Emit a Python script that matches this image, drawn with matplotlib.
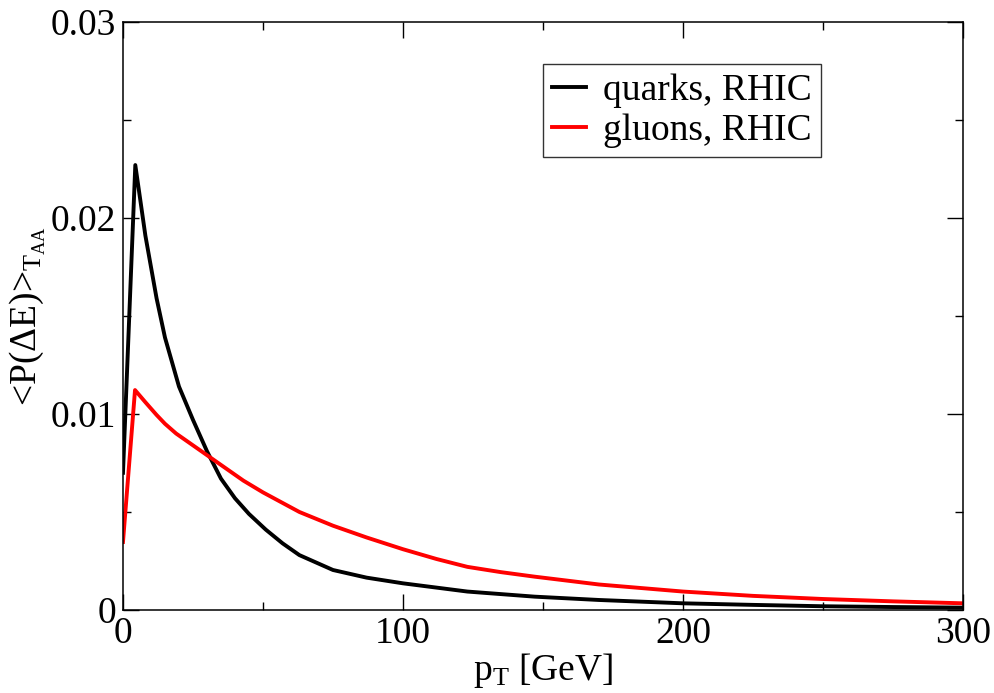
import matplotlib
matplotlib.use("Agg")
import matplotlib.pyplot as plt
from matplotlib.ticker import MultipleLocator, FixedFormatter, FixedLocator

plt.rcParams['font.family'] = ['Liberation Serif', 'DejaVu Serif']
plt.rcParams['mathtext.fontset'] = 'custom'
plt.rcParams['mathtext.rm'] = 'Liberation Serif'
plt.rcParams['mathtext.it'] = 'Liberation Serif:italic'

# values
pt_q = [0, 4.4, 6, 8, 10, 12, 15, 18, 20, 25, 30, 35, 40, 45, 51, 57, 63,
        75, 87, 100, 123, 147, 170, 200, 225, 250, 275, 300]
quarks = [0.0070, 0.0227, 0.0211, 0.0191, 0.0175, 0.0159, 0.0139, 0.0124,
          0.0114, 0.0097, 0.0081, 0.0067, 0.0057, 0.0049, 0.0041, 0.0034,
          0.0028, 0.00204, 0.00165, 0.00136, 0.00094, 0.00068, 0.00051,
          0.00034, 0.00026, 0.00019, 0.00015, 0.00012]

pt_g = [0, 4.3, 8, 12, 15, 19, 25, 30, 35, 43, 50, 63, 75, 87, 100, 112,
        123, 135, 147, 170, 200, 225, 250, 275, 300]
gluons = [0.00347, 0.01122, 0.0106, 0.00995, 0.0095, 0.0090, 0.0084, 0.0079,
          0.0074, 0.0066, 0.0060, 0.0050, 0.0043, 0.0037, 0.0031, 0.0026,
          0.0022, 0.00193, 0.0017, 0.0013, 0.00094, 0.00072, 0.00056,
          0.00044, 0.00034]

x_ticks = [0, 100, 200, 300]
y_ticks = [0, 0.01, 0.02, 0.03]
y_labels = ['0', '0.01', '0.02', '0.03']

fs = 27

fig = plt.figure(figsize=(9.95, 6.93), dpi=100)
ax = fig.add_axes([0.1236, 0.1198, 0.8442, 0.8485])

ax.plot(pt_q, quarks, color='black', lw=2.8, label='quarks, RHIC')
ax.plot(pt_g, gluons, color='#ff0000', lw=2.8, label='gluons, RHIC')

ax.set_xlim(0, 300)
ax.set_ylim(0, 0.03)
ax.xaxis.set_major_locator(FixedLocator(x_ticks))
ax.xaxis.set_minor_locator(MultipleLocator(50))
ax.yaxis.set_major_locator(FixedLocator(y_ticks))
ax.yaxis.set_major_formatter(FixedFormatter(y_labels))
ax.yaxis.set_minor_locator(MultipleLocator(0.005))

ax.tick_params(which='both', direction='in', top=True, right=True,
               labelsize=fs, width=1.0)
ax.tick_params(which='major', length=11.5)
ax.tick_params(which='minor', length=5.8)
ax.tick_params(axis='y', pad=5)
ax.tick_params(axis='x', pad=5)
for s in ax.spines.values():
    s.set_linewidth(1.1)

ax.set_xlabel(r'p$_{\mathrm{T}}$ [GeV]', fontsize=fs, labelpad=0)
ax.set_ylabel(r'<P($\Delta$E)>$_{\mathrm{T_{AA}}}$', fontsize=fs, labelpad=2)

leg = ax.legend(loc='upper right', bbox_to_anchor=(0.831, 0.9286),
                fontsize=fs, frameon=True, fancybox=False, handlelength=0.9,
                handletextpad=0.45, borderpad=0.25, labelspacing=0.15,
                borderaxespad=0)
leg.get_frame().set_edgecolor('black')
leg.get_frame().set_linewidth(1.0)

fig.savefig('out.png', dpi=100)
